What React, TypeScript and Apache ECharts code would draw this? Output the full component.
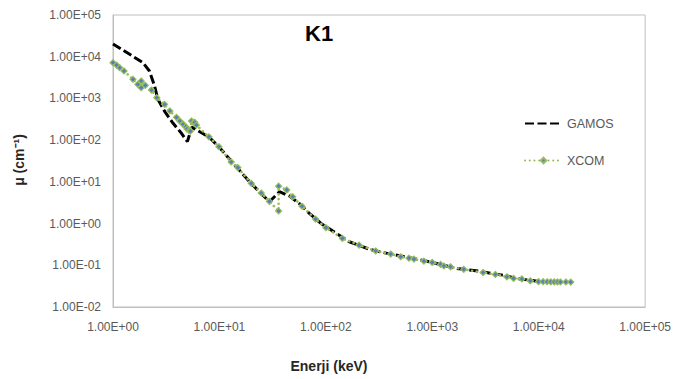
import { useEffect, useRef } from "react";
import * as echarts from "echarts";

// GAMOS (black dashed line)
const gamosEnergy = [1, 1.9, 2.2, 2.46, 2.64, 3.07, 3.67, 4.4, 5.0, 5.5, 8.0, 10.0, 13.9, 20.0, 29.5, 36.6, 45.4, 56.4, 69.9, 90, 166, 260, 340, 964, 1675, 2730, 3775, 4856, 6000, 10000];
const gamosMu = [20200, 7300, 4540, 1980, 950, 480, 253, 146, 92, 205, 118, 67, 25.3, 9.0, 3.33, 5.8, 4.6, 3.0, 1.76, 1.01, 0.366, 0.24, 0.204, 0.12, 0.084, 0.0726, 0.0624, 0.057, 0.049, 0.041];

// XCOM (green dotted line with diamond markers)
const xcomEnergy = [1.0, 1.08, 1.155, 1.27, 1.54, 1.71, 1.84, 1.84, 2.01, 2.3, 2.58, 3.05, 3.42, 3.95, 4.24, 4.56, 4.83, 4.96, 5.19, 5.34, 5.46, 5.71, 5.86, 6.07, 7.97, 9.89, 12.9, 14.9, 19.9, 24.7, 29.5, 35.98, 35.98, 42.9, 48.8, 59.7, 80, 100, 143, 205, 294, 407, 505, 604, 673, 834, 998, 1197, 1285, 1483, 1976, 3000, 3915, 5024, 5808, 6950, 8318, 9960, 11000, 12000, 13000, 14000, 15000, 16000, 18000, 20000];
const xcomMu = [7200, 6300, 5440, 4540, 2870, 2180, 1810, 2610, 2060, 1590, 1040, 721, 499, 352, 287, 240, 209, 185, 170, 165, 287, 265, 267, 230, 120, 69.5, 30, 22, 9.2, 5.4, 3.4, 2.0, 7.9, 6.4, 4.4, 2.6, 1.28, 0.8, 0.44, 0.305, 0.22, 0.186, 0.16, 0.148, 0.141, 0.126, 0.117, 0.105, 0.096, 0.092, 0.08, 0.067, 0.0605, 0.053, 0.0485, 0.047, 0.0425, 0.0405, 0.0405, 0.0403, 0.0401, 0.04, 0.0399, 0.0398, 0.0397, 0.0396];

const xTickValues = [1, 10, 100, 1000, 10000, 100000];
const yTickValues = [0.01, 0.1, 1, 10, 100, 1000, 10000, 100000];

const FONT = "'Liberation Sans', Arial, sans-serif";

function sci(v: number): string {
  const e = Math.round(Math.log10(v));
  const m = v / Math.pow(10, e);
  const sign = e >= 0 ? "+" : "-";
  return `${m.toFixed(2)}E${sign}${String(Math.abs(e)).padStart(2, "0")}`;
}

export default function App() {
  const ref = useRef<HTMLDivElement>(null);
  useEffect(() => {
    if (!ref.current) return;
    const chart = echarts.init(ref.current, undefined, { renderer: "svg" });
    chart.setOption({
      animation: false,
      backgroundColor: "#ffffff",
      grid: {
        left: 113,
        right: 27,
        top: 15,
        bottom: 72,
        show: true,
        borderColor: "#BFBFBF",
        borderWidth: 1,
        containLabel: false,
      },
      xAxis: {
        type: "log",
        logBase: 10,
        min: xTickValues[0],
        max: xTickValues[xTickValues.length - 1],
        splitNumber: xTickValues.length - 1,
        axisLine: { show: true, onZero: false, lineStyle: { color: "#BFBFBF", width: 1 } },
        axisTick: { show: false },
        splitLine: { show: false },
        axisLabel: {
          formatter: (v: number) => sci(v),
          color: "#595959",
          fontSize: 12,
          fontFamily: FONT,
          margin: 14,
          showMinLabel: true,
          showMaxLabel: true,
        },
      },
      yAxis: {
        type: "log",
        logBase: 10,
        min: yTickValues[0],
        max: yTickValues[yTickValues.length - 1],
        splitNumber: yTickValues.length - 1,
        axisLine: { show: true, onZero: false, lineStyle: { color: "#BFBFBF", width: 1 } },
        axisTick: { show: false },
        splitLine: { show: false },
        axisLabel: {
          formatter: (v: number) => sci(v),
          color: "#595959",
          fontSize: 12,
          fontFamily: FONT,
          margin: 12,
          showMinLabel: true,
          showMaxLabel: true,
        },
      },
      legend: {
        orient: "vertical",
        left: 519,
        top: 112,
        itemWidth: 37,
        itemHeight: 7,
        itemGap: 24,
        textStyle: { color: "#595959", fontSize: 12.5, fontFamily: FONT },
        data: [
          { name: "GAMOS", itemStyle: { opacity: 0 } },
          { name: "XCOM" },
        ],
      },
      graphic: [
        {
          type: "text",
          left: 305,
          top: 22,
          style: { text: "K1", fontSize: 22, fontWeight: "bold", fontFamily: FONT, fill: "#000000" },
        },
        {
          type: "text",
          x: 329,
          y: 366,
          style: {
            text: "Enerji (keV)",
            fontSize: 14,
            fontWeight: "bold",
            fontFamily: FONT,
            fill: "#262626",
            align: "center",
            verticalAlign: "middle",
          },
        },
        {
          type: "text",
          x: 19,
          y: 160,
          rotation: Math.PI / 2,
          style: {
            text: "μ (cm⁻¹)",
            fontSize: 14,
            fontWeight: "bold",
            fontFamily: FONT,
            fill: "#262626",
            align: "center",
            verticalAlign: "middle",
          },
        },
      ],
      series: [
        {
          name: "GAMOS",
          type: "line",
          data: gamosEnergy.map((e, i) => [e, gamosMu[i]]),
          symbol: "none",
          lineStyle: { color: "#000000", width: 3, type: [9, 3.5] },
          itemStyle: { color: "#000000" },
          z: 2,
        },
        {
          name: "XCOM",
          type: "line",
          data: xcomEnergy.map((e, i) => [e, xcomMu[i]]),
          symbol: "diamond",
          symbolSize: 6,
          showSymbol: true,
          lineStyle: { color: "#9BBB59", width: 2.6, type: [0.1, 4.6], cap: "round" },
          itemStyle: { color: "#4F81BD", borderColor: "#9BBB59", borderWidth: 1.2 },
          z: 3,
        },
      ],
    });
    return () => chart.dispose();
  }, []);
  return (
    <div
      ref={ref}
      style={{ position: "fixed", left: 0, top: 0, width: 674, height: 379, background: "#fff" }}
    />
  );
}
